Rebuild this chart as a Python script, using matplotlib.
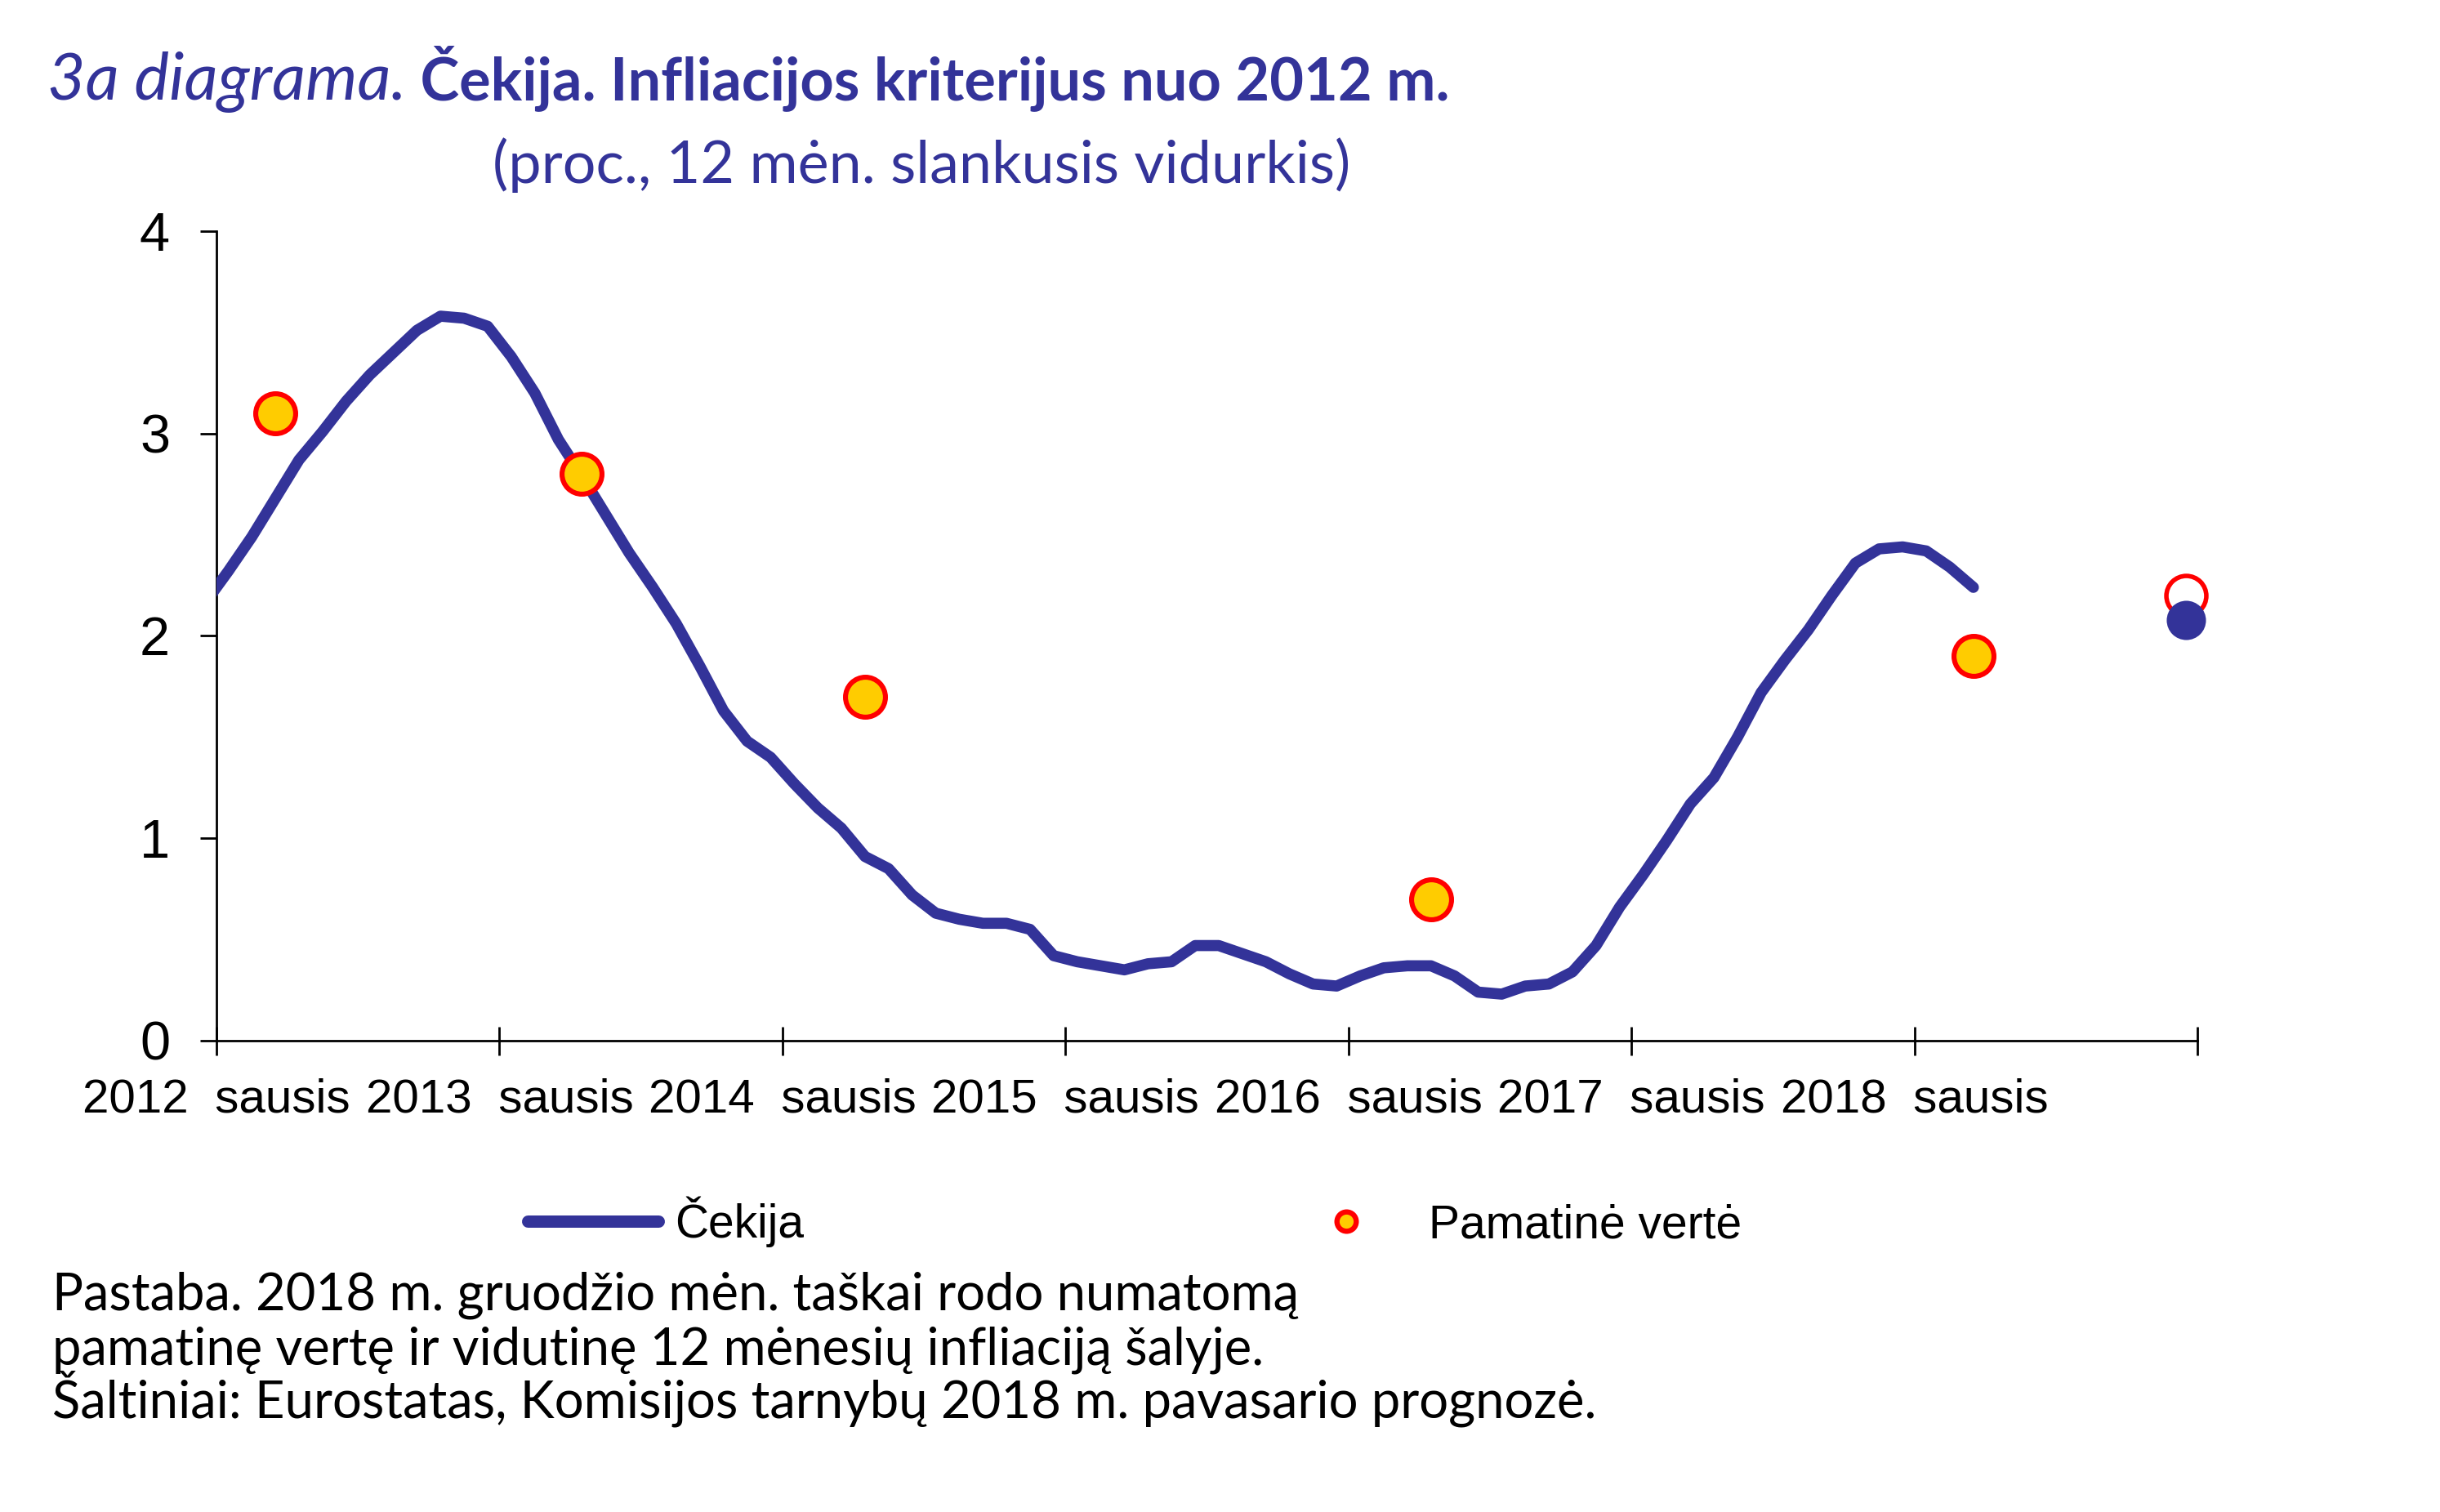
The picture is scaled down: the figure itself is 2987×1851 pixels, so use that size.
import matplotlib
matplotlib.use("Agg")
import matplotlib.pyplot as plt
from matplotlib.lines import Line2D
from matplotlib.text import Annotation
import numpy as np

# ---------------- data ----------------
# Czech Republic, HICP 12-month moving average (%), monthly, starting Dec 2011
cz_first_month = -1  # month index relative to January 2012
cz_hicp_12m = [2.16, 2.32, 2.49, 2.68, 2.87, 3.01, 3.16, 3.29, 3.40, 3.51, 3.58, 3.57, 3.53,
               3.38, 3.20, 2.97, 2.79, 2.60, 2.41, 2.24, 2.06, 1.85, 1.63, 1.48, 1.40,
               1.27, 1.15, 1.05, 0.91, 0.85, 0.72, 0.63, 0.60, 0.58, 0.58, 0.55, 0.42,
               0.39, 0.37, 0.35, 0.38, 0.39, 0.47, 0.47, 0.43, 0.39, 0.33, 0.28, 0.27,
               0.32, 0.36, 0.37, 0.37, 0.32, 0.24, 0.23, 0.27, 0.28, 0.34, 0.47, 0.66,
               0.82, 0.99, 1.17, 1.30, 1.50, 1.72, 1.88, 2.03, 2.20, 2.36, 2.43, 2.44,
               2.42, 2.34, 2.24]

# reference values (month index relative to January 2012)
ref_months = [2, 15, 27, 51, 74]
ref_values = [3.1, 2.8, 1.7, 0.7, 1.9]

# December 2018 forecast points
forecast_month = 83
forecast_ref = 2.2
forecast_cz = 2.08

tick_months = [0, 12, 24, 36, 48, 60, 72, 84]
tick_labels = ["2012  sausis", "2013  sausis", "2014  sausis", "2015  sausis",
               "2016  sausis", "2017  sausis", "2018  sausis", ""]
y_ticks = [0, 1, 2, 3, 4]

title_italic = "3a diagrama."
title_bold = " Čekija. Infliacijos kriterijus nuo 2012 m."
subtitle = "(proc., 12 mėn. slankusis vidurkis)"
legend_labels = ["Čekija", "Pamatinė vertė"]
footnote_lines = ["Pastaba. 2018 m. gruodžio mėn. taškai rodo numatomą",
                  "pamatinę vertę ir vidutinę 12 mėnesių infliaciją šalyje.",
                  "Šaltiniai: Eurostatas, Komisijos tarnybų 2018 m. pavasario prognozė."]

# ---------------- style ----------------
W, H, DPI = 2987, 1851, 200
NAVY = "#333399"
YELLOW = "#FFCC00"
RED = "#FF0000"
ARIAL = ["Liberation Sans", "DejaVu Sans"]
GOTHIC = ["Lato", "DejaVu Sans"]

plt.rcParams["font.family"] = ARIAL

fig = plt.figure(figsize=(W / DPI, H / DPI), dpi=DPI)
fig.patch.set_facecolor("white")
ax = fig.add_axes([265 / W, 1 - 1274 / H, (2690 - 265) / W, (1274 - 283) / H])

x = cz_first_month + np.arange(len(cz_hicp_12m)) + 0.5
ax.plot(x, cz_hicp_12m, color=NAVY, lw=4.9, solid_capstyle="round",
        solid_joinstyle="round", zorder=3)
ax.plot(np.array(ref_months) + 0.5, ref_values, ls="none", marker="o", ms=17.6,
        mfc=YELLOW, mec=RED, mew=2.2, zorder=4, clip_on=False)
ax.plot([forecast_month + 0.5], [forecast_ref], ls="none", marker="o", ms=17.6,
        mfc="white", mec=RED, mew=2.0, zorder=4, clip_on=False)
ax.plot([forecast_month + 0.5], [forecast_cz], ls="none", marker="o", ms=17.3,
        mfc=NAVY, mec=NAVY, mew=0, zorder=5, clip_on=False)

ax.set_xlim(0, 84)
ax.set_ylim(0, 4)
ax.set_xticks(tick_months)
ax.set_xticklabels(tick_labels)
ax.set_yticks(y_ticks)
for s in ["top", "right"]:
    ax.spines[s].set_visible(False)
for s in ["left", "bottom"]:
    ax.spines[s].set_linewidth(1.0)
    ax.spines[s].set_color("black")
ax.tick_params(axis="y", direction="out", length=7.2, width=1.0, pad=13.3,
               labelsize=24, colors="black")
ax.tick_params(axis="x", direction="inout", length=12.6, width=1.0, pad=10,
               labelsize=21, colors="black")

# legend
handles = [Line2D([], [], color=NAVY, lw=5.4, solid_capstyle="round"),
           Line2D([], [], ls="none", marker="o", ms=8.5, mfc=YELLOW, mec=RED, mew=2.3)]
fig.legend(handles, legend_labels, loc="center left",
           bbox_to_anchor=(646 / W, 1 - 1496 / H), ncol=2, frameon=False,
           prop={"family": ARIAL, "size": 20.5}, handlelength=2.81,
           handletextpad=0.36, columnspacing=10.25, borderpad=0, borderaxespad=0)

# titles
t1 = fig.text(58 / W, 1 - 122 / H, title_italic, fontstyle="italic", family=GOTHIC,
              color=NAVY, fontsize=24, va="baseline", ha="left")
t2 = fig.text(497 / W, 1 - 122 / H, title_bold, fontweight="bold", family=GOTHIC,
              color=NAVY, fontsize=24, va="baseline", ha="left")
t3 = fig.text(1128 / W, 1 - 202 / H, subtitle, family=GOTHIC, color=NAVY,
              fontsize=24, va="center", ha="center")

foot_y = [1603, 1670, 1735]
foots = [fig.text(64 / W, 1 - yy / H, line, family=GOTHIC, color="black",
                  fontsize=20, va="baseline", ha="left")
         for line, yy in zip(footnote_lines, foot_y)]

# fit text widths to the reference layout
fig.canvas.draw()
renderer = fig.canvas.get_renderer()


def fit(texts, target_px, measure=None):
    measure = measure or texts
    w = sum(t.get_window_extent(renderer).width for t in measure)
    for t in texts:
        t.set_fontsize(t.get_fontsize() * target_px / w)


fit([t1], 497 - 58)
fit([t2], 1777 - 497)
fit([t3], 1050)
fit(foots, 1892, measure=[foots[2]])

fig.savefig("out.png", dpi=DPI, facecolor="white")
